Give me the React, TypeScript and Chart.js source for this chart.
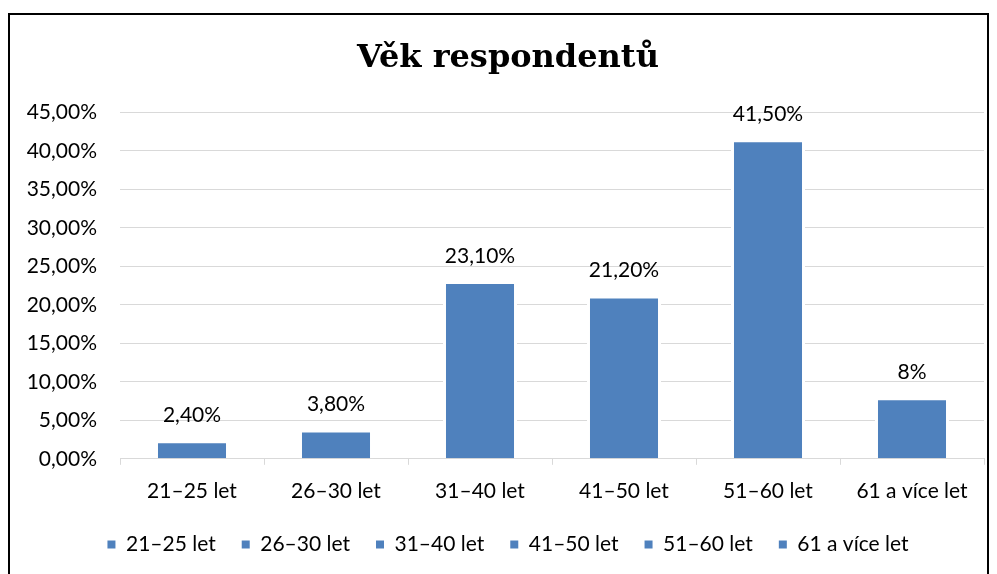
import React, { useEffect, useRef } from "react";
import { Chart, registerables } from "chart.js";

Chart.register(...registerables);

const categories = ["21–25 let", "26–30 let", "31–40 let", "41–50 let", "51–60 let", "61 a více let"];
const values = [2.4, 3.8, 23.1, 21.2, 41.5, 8];
const valueLabels = ["2,40%", "3,80%", "23,10%", "21,20%", "41,50%", "8%"];
const titleText = "Věk respondentů";
const barColor = "#4F81BD";
const FONT = "Lato, 'Open Sans', sans-serif";
const FS = 21;

const dataLabelPlugin = {
  id: "dataLabels",
  afterDatasetsDraw(chart: any) {
    const ctx = chart.ctx;
    const meta = chart.getDatasetMeta(0);
    ctx.save();
    ctx.font = `${FS}px ${FONT}`;
    ctx.fillStyle = "#000";
    ctx.textAlign = "center";
    ctx.textBaseline = "middle";
    meta.data.forEach((bar: any, i: number) => {
      ctx.fillText(valueLabels[i], bar.x, bar.y - 25);
    });
    ctx.restore();
  },
};

export default function App() {
  const ref = useRef<HTMLCanvasElement | null>(null);
  useEffect(() => {
    if (!ref.current) return;
    const chart = new Chart(ref.current, {
      type: "bar",
      data: {
        labels: categories,
        datasets: [
          {
            label: "Věk",
            data: values,
            backgroundColor: barColor,
            borderColor: "#FFFFFF",
            borderWidth: 3,
            borderSkipped: "start",
            categoryPercentage: 1,
            barPercentage: 0.514,
          },
        ],
      },
      options: {
        responsive: false,
        animation: false,
        layout: { padding: { left: 22, right: 3, top: 0, bottom: 9 } },
        plugins: {
          title: {
            display: true,
            text: titleText,
            color: "#000",
            font: { family: "'DejaVu Serif', serif", size: 32, weight: "bold" },
            padding: { top: 24, bottom: 35 },
          },
          legend: {
            position: "bottom",
            onClick: () => {},
            labels: {
              boxWidth: 8,
              boxHeight: 8,
              padding: 26,
              color: "#000",
              font: { family: FONT, size: FS },
              generateLabels: () =>
                categories.map((c, i) => ({
                  text: c,
                  fillStyle: barColor,
                  strokeStyle: barColor,
                  lineWidth: 0,
                  hidden: false,
                  index: i,
                  datasetIndex: 0,
                })),
            },
          },
          tooltip: { enabled: false },
        },
        scales: {
          x: {
            afterFit: (scale: any) => {
              scale.height = scale.height - 10;
            },
            grid: {
              display: true,
              offset: true,
              drawOnChartArea: false,
              drawTicks: true,
              tickLength: 6,
              color: "#D9D9D9",
            },
            border: { display: true, color: "#D9D9D9", width: 1 },
            ticks: { color: "#000", font: { family: FONT, size: FS }, padding: 14, maxRotation: 0 },
          },
          y: {
            min: 0,
            max: 45,
            afterFit: (scale: any) => {
              scale.width = 88;
              scale._computeLabelArea = () => undefined;
            },
            afterUpdate: (scale: any) => {
              scale._labelArea = undefined;
            },
            grid: { color: "#D9D9D9", drawTicks: false, lineWidth: 1 },
            border: { display: false },
            ticks: {
              stepSize: 5,
              color: "#000",
              padding: 23,
              font: { family: FONT, size: FS },
              callback: (v: any) => Number(v).toFixed(2).replace(".", ",") + "%",
            },
          },
        },
      },
      plugins: [dataLabelPlugin],
    });
    return () => chart.destroy();
  }, []);

  return (
    <div style={{ border: "2px solid #000", marginTop: 5, height: 600, boxSizing: "border-box" }}>
      <canvas ref={ref} width={977} height={559} style={{ display: "block" }} />
    </div>
  );
}
